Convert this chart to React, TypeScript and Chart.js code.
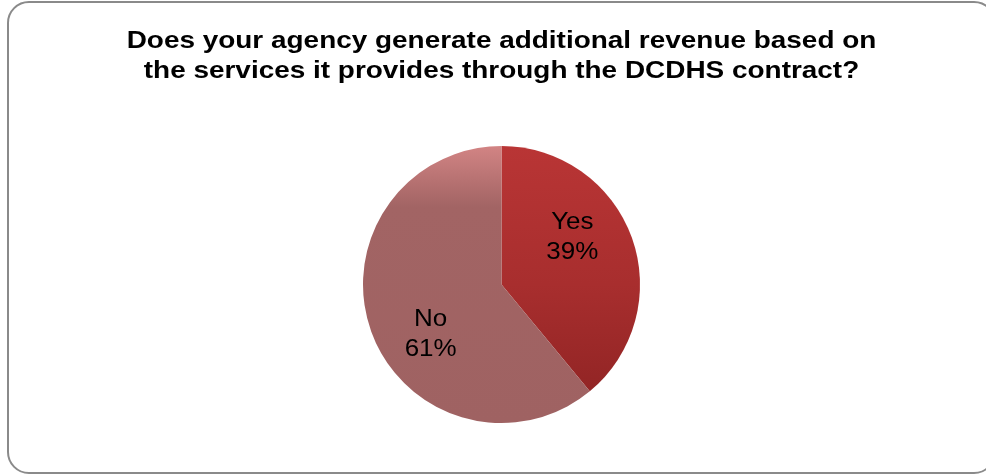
import React, { useEffect, useRef } from "react";
import { Chart, registerables } from "chart.js";

Chart.register(...registerables);

const categories = ["Yes", "No"];
const values = [39, 61];
const titleLines = [
  "Does your agency generate additional revenue based on",
  "the services it provides through the DCDHS contract?",
];

const FONT_FAMILY = "'Liberation Sans', Arial, sans-serif";
const TEXT_STRETCH = 1.13;

function drawStretched(ctx: any, text: string, x: number, y: number, stretch: number) {
  ctx.save();
  ctx.translate(x, y);
  ctx.scale(stretch, 1);
  ctx.fillText(text, 0, 0);
  ctx.restore();
}

const titlePlugin = {
  id: "wideTitle",
  afterDraw(chart: any) {
    const ctx = chart.ctx;
    ctx.save();
    ctx.font = `bold 24.5px ${FONT_FAMILY}`;
    ctx.fillStyle = "#000";
    ctx.textAlign = "center";
    ctx.textBaseline = "alphabetic";
    const cx = 501.5;
    titleLines.forEach((line, i) => {
      drawStretched(ctx, line, cx, 48 + i * 30, 1.14);
    });
    ctx.restore();
  },
};

const labelPlugin = {
  id: "sliceLabels",
  afterDatasetsDraw(chart: any) {
    const ctx = chart.ctx;
    const meta = chart.getDatasetMeta(0);
    ctx.save();
    ctx.font = `23px ${FONT_FAMILY}`;
    ctx.fillStyle = "#000";
    ctx.textAlign = "center";
    ctx.textBaseline = "middle";
    meta.data.forEach((arc: any, i: number) => {
      const { x, y, startAngle, endAngle, outerRadius } = arc.getProps(
        ["x", "y", "startAngle", "endAngle", "outerRadius"],
        true
      );
      const mid = (startAngle + endAngle) / 2 - (14.6 * Math.PI) / 180;
      const r = outerRadius * 0.62;
      const cx = x + Math.cos(mid) * r;
      const cy = y + Math.sin(mid) * r + 1.5;
      drawStretched(ctx, categories[i], cx, cy - 15, TEXT_STRETCH);
      drawStretched(ctx, values[i] + "%", cx, cy + 15, TEXT_STRETCH);
    });
    ctx.restore();
  },
};

function makeGradient(chart: any, stops: [number, string][]) {
  const area = chart.chartArea;
  if (!area) return stops[0][1];
  const g = chart.ctx.createLinearGradient(0, area.top, 0, area.bottom);
  stops.forEach(([o, c]) => g.addColorStop(o, c));
  return g;
}

export default function App() {
  const ref = useRef<HTMLCanvasElement>(null);
  useEffect(() => {
    document.body.style.margin = "0";
    const chart = new Chart(ref.current!, {
      type: "pie",
      data: {
        labels: categories,
        datasets: [
          {
            data: values,
            borderWidth: 0,
            backgroundColor: (c: any) => {
              if (c.dataIndex === 0) {
                return makeGradient(c.chart, [
                  [0, "#b93535"],
                  [0.5, "#a82e2e"],
                  [1, "#8c2222"],
                ]);
              }
              return makeGradient(c.chart, [
                [0, "#d28484"],
                [0.22, "#a26464"],
                [1, "#9f6262"],
              ]);
            },
          },
        ],
      },
      options: {
        animation: false,
        responsive: false,
        events: [],
        layout: { padding: { left: 17, right: 0, top: 146, bottom: 51 } },
        plugins: {
          legend: { display: false },
          tooltip: { enabled: false },
          title: { display: false },
        },
      },
      plugins: [labelPlugin, titlePlugin],
    });
    return () => chart.destroy();
  }, []);
  return (
    <div style={{ position: "relative", width: 986, height: 474, overflow: "hidden", background: "#fff" }}>
      <canvas ref={ref} width={986} height={474} style={{ position: "absolute", left: 0, top: 0 }} />
      <div
        style={{
          position: "absolute",
          left: 7,
          top: 1,
          width: 985,
          height: 469,
          border: "2px solid #8a8a8a",
          borderRadius: 22,
          pointerEvents: "none",
        }}
      />
    </div>
  );
}
